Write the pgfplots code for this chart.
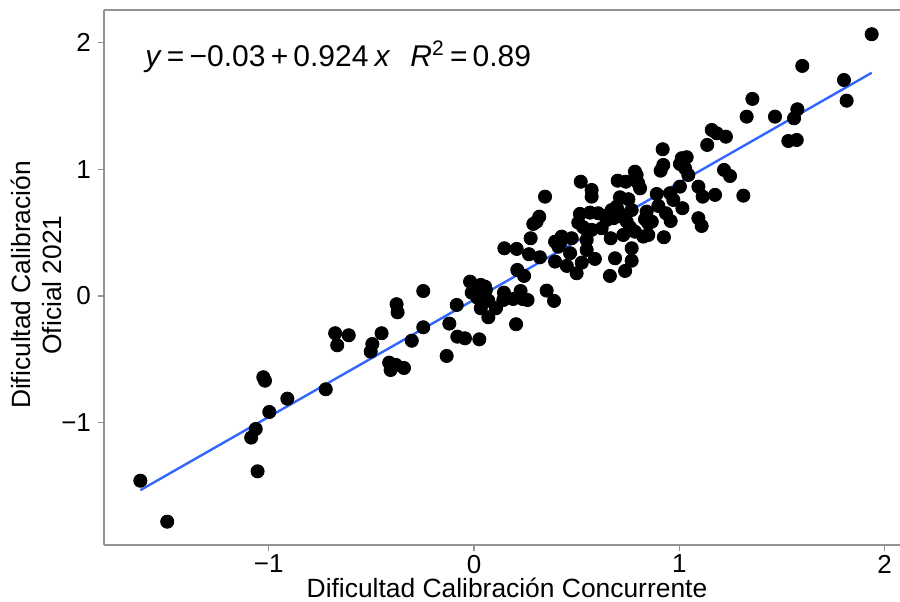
\documentclass[border=0pt]{standalone}
\usepackage{pgfplots}
\pgfplotsset{compat=1.18}
\usepackage{pgfplotstable}
\usepackage{fontspec}
\setmainfont{Liberation Sans}
\usetikzlibrary{calc}
\definecolor{fitblue}{HTML}{3366FF}
\pgfplotstableread{
x y
-1.625 -1.457
-1.494 -1.780
-1.085 -1.117
-1.063 -1.049
-1.054 -1.383
-1.026 -0.641
-1.018 -0.668
-0.997 -0.915
-0.909 -0.810
-0.722 -0.736
-0.676 -0.294
-0.666 -0.389
-0.610 -0.310
-0.503 -0.439
-0.495 -0.379
-0.450 -0.294
-0.413 -0.526
-0.406 -0.584
-0.380 -0.544
-0.341 -0.568
-0.377 -0.065
-0.372 -0.129
-0.303 -0.353
-0.247 -0.247
-0.247 0.039
-0.133 -0.473
-0.120 -0.218
-0.084 -0.071
-0.081 -0.321
-0.044 -0.334
0.026 -0.342
-0.019 0.113
-0.011 0.026
0.033 0.087
0.054 0.073
0.016 -0.013
0.058 0.047
0.070 -0.037
0.033 -0.097
0.070 -0.168
0.107 -0.097
0.146 0.026
0.143 -0.032
0.191 -0.024
0.227 0.039
0.237 -0.024
0.261 -0.032
0.205 -0.223
0.211 0.205
0.244 0.158
0.148 0.376
0.208 0.371
0.268 0.329
0.321 0.305
0.276 0.455
0.289 0.568
0.305 0.586
0.354 0.042
0.346 0.783
0.318 0.625
0.395 0.428
0.411 0.389
0.395 0.271
0.390 -0.039
0.520 0.901
0.573 0.836
0.573 0.783
0.700 0.909
0.740 0.901
0.784 0.980
0.792 0.954
0.800 0.889
0.809 0.849
0.516 0.647
0.565 0.657
0.605 0.652
0.508 0.578
0.532 0.542
0.549 0.520
0.711 0.778
0.752 0.763
0.671 0.678
0.695 0.704
0.679 0.613
0.703 0.665
0.719 0.625
0.654 0.639
0.646 0.599
0.768 0.678
0.744 0.586
0.760 0.542
0.784 0.507
0.727 0.481
0.622 0.534
0.666 0.455
0.573 0.521
0.549 0.442
0.427 0.468
0.419 0.416
0.476 0.455
0.468 0.337
0.452 0.237
0.500 0.179
0.525 0.263
0.589 0.292
0.549 0.363
0.687 0.297
0.768 0.376
0.768 0.278
0.736 0.197
0.662 0.158
0.919 1.157
1.136 1.191
1.012 1.086
1.036 1.094
1.003 1.041
1.028 1.007
1.044 0.954
0.922 1.033
0.909 0.988
0.890 0.804
0.955 0.810
0.971 0.757
1.003 0.862
1.093 0.862
1.114 0.783
1.174 0.797
1.015 0.692
0.898 0.710
0.841 0.665
0.833 0.605
0.935 0.652
0.958 0.591
0.866 0.586
0.849 0.573
1.093 0.613
1.109 0.552
0.825 0.468
0.849 0.481
0.925 0.463
1.356 1.554
1.328 1.414
1.466 1.414
1.575 1.472
1.559 1.401
1.531 1.222
1.572 1.230
1.227 1.256
1.218 0.994
1.247 0.946
1.312 0.791
1.937 2.064
1.599 1.814
1.802 1.703
1.815 1.540
1.158 1.309
1.182 1.283
}\pts
\begin{document}
\begin{tikzpicture}
\begin{axis}[
  scale only axis, width=398pt, height=267.5pt,
  xmin=-1.802, xmax=2.075, ymin=-1.964, ymax=2.255,
  axis x line*=box, axis y line*=left,
  axis line style={draw=gray!85, line width=0.6pt},
  xtick={-1,0,1,2}, ytick={-1,0,1,2},
  xticklabels={−1,0,1,2}, yticklabels={−1,0,1,2},
  xtick pos=left, ytick pos=left,
  tick align=outside, major tick length=3pt,
  tick style={draw=gray!85, line width=0.6pt},
  ticklabel style={font=\fontsize{13}{15}\selectfont, text=black},
  xticklabel style={yshift=1.5pt},
  label style={font=\fontsize{13.2}{15.5}\selectfont, text=black},
  xlabel={Dificultad Calibración Concurrente},
  ylabel={Dificultad Calibración\\Oficial 2021},
  xlabel style={at={(axis description cs:0.5,0)}, anchor=center, yshift=-21.5pt, xshift=2.5pt},
  ylabel style={align=center, at={(axis description cs:0,0.5)}, anchor=center, xshift=-3.75pt, yshift=34pt},
]
\addplot[only marks, mark=*, mark size=3.3pt, mark options={fill=black, draw=black}] table[x=x, y=y] {\pts};
\addplot[fitblue, line width=1.2pt] coordinates {(-1.625,-1.5315) (1.937,1.7598)};
\node[anchor=west, inner sep=0pt, font=\fontsize{15}{18}\selectfont] at (axis cs:-1.603,1.885)
  {\textit{y}\hspace{2.6pt}=\hspace{2.6pt}−0.03\hspace{2.6pt}+\hspace{2.6pt}0.924\hspace{3pt}\textit{x}\hspace{10pt}\textit{R}\textsuperscript{2}\hspace{2.6pt}=\hspace{2.6pt}0.89};
\end{axis}
\pgfresetboundingbox
\path ($(current axis.south west)+(-52pt,-28pt)$) rectangle ($(current axis.north east)+(0pt,5pt)$);
\end{tikzpicture}
\end{document}
